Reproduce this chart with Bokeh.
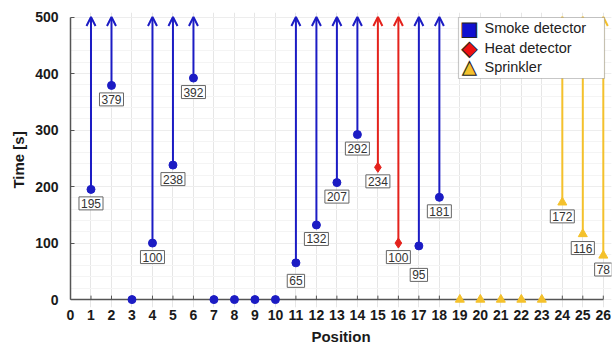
from bokeh.plotting import figure
from bokeh.models import (ColumnDataSource, Range1d, Arrow, OpenHead, Label,
                          BoxAnnotation, FixedTicker)
from bokeh.embed import file_html
from bokeh.resources import INLINE

# ---- data ----
smoke_pos = [1, 2, 3, 4, 5, 6, 7, 8, 9, 10, 11, 12, 13, 14, 17, 18]
smoke_time = [195, 379, 0, 100, 238, 392, 0, 0, 0, 0, 65, 132, 207, 292, 95, 181]
heat_pos = [15, 16]
heat_time = [234, 100]
sprk_pos = [19, 20, 21, 22, 23, 24, 25, 26]
sprk_time = [0, 0, 0, 0, 0, 172, 116, 78]
legend_labels = ["Smoke detector", "Heat detector", "Sprinkler"]
x_ticks = list(range(0, 27))
y_ticks = [0, 100, 200, 300, 400, 500]
time_max = 500

# ---- styles ----
BLUE = "#1c1cc4"
RED = "#e4221c"
GOLD = "#f4c12c"
AXIS = "#555555"
label_drop = {(11, 65): -18, (17, 95): -29}
tick_len = 7  # data units (~4px)

FONT = "Liberation Sans"

p = figure(frame_width=541, frame_height=295, min_border_left=70, min_border_right=3,
           min_border_top=12, min_border_bottom=0,
           x_range=Range1d(0, 26.4), y_range=Range1d(-14, 508),
           output_backend="svg", toolbar_location=None, background_fill_color="white",
           border_fill_color="white")
p.outline_line_color = None

# grid
p.xgrid.ticker = FixedTicker(ticks=x_ticks)
p.xgrid.grid_line_color = "#e6e6e6"
p.xgrid.bounds = (0, 500)
p.ygrid.ticker = FixedTicker(ticks=y_ticks, minor_ticks=list(range(0, 501, 20)))
p.ygrid.grid_line_color = "#ededed"
p.ygrid.minor_grid_line_color = "#f4f4f4"
p.ygrid.bounds = (0, 26)

# axes
p.xaxis.ticker = FixedTicker(ticks=x_ticks)
p.yaxis.ticker = FixedTicker(ticks=y_ticks)
p.yaxis.bounds = (0, 500)
for ax in (p.xaxis[0], p.yaxis[0]):
    ax.axis_line_color = AXIS
    ax.axis_line_width = 1.5
    ax.major_tick_line_color = AXIS
    ax.major_tick_in = 4
    ax.major_tick_out = 0
    ax.minor_tick_line_color = None
    ax.major_label_text_font = FONT
    ax.major_label_text_font_style = "bold"
    ax.major_label_text_font_size = "14px"
    ax.major_label_text_color = "#1a1a1a"
    ax.axis_label_text_font = FONT
    ax.axis_label_text_font_style = "bold"
    ax.axis_label_text_font_size = "15px"
    ax.axis_label_text_color = "#1a1a1a"
p.xaxis.axis_line_color = None
p.xaxis.major_tick_line_color = None
p.xaxis.axis_label = "Position"
p.yaxis.axis_label = "Time [s]"
p.xaxis.major_label_standoff = 2
p.xaxis.axis_label_standoff = 5
p.yaxis.major_label_standoff = 12
p.yaxis.axis_label_standoff = 5

# x axis line at time 0 with inward ticks
p.segment(x0=[x_ticks[0]], x1=[x_ticks[-1]], y0=[0], y1=[0], line_color=AXIS, line_width=1.5)
p.segment(x0=x_ticks, x1=x_ticks, y0=[0] * len(x_ticks), y1=[tick_len] * len(x_ticks),
          line_color=AXIS, line_width=1)


def series(pos, times, color, marker, size):
    nz = [(x, t) for x, t in zip(pos, times) if t > 0]
    src = ColumnDataSource(dict(
        x=[a for a, _ in nz], y=[b for _, b in nz], top=[time_max] * len(nz)))
    arr = Arrow(x_start="x", y_start="y", x_end="x", y_end="top", source=src,
                line_color=color, line_width=2, level="glyph",
                end=OpenHead(size=9, line_color=color, line_width=2))
    p.add_layout(arr)
    p.scatter(pos, times, marker=marker, size=size, fill_color=color, line_color=color)
    for a, b in nz:
        p.add_layout(Label(x=a, y=b, text=str(b), y_offset=label_drop.get((a, b), -14),
                           text_align="center", text_baseline="middle",
                           text_font=FONT, text_font_size="12px", text_color="#333333",
                           background_fill_color="white", border_line_color="#666666",
                           border_line_width=1, padding=2))


series(smoke_pos, smoke_time, BLUE, "circle", 8)
series(heat_pos, heat_time, RED, "diamond", 10)
series(sprk_pos, sprk_time, GOLD, "triangle", 9)

# ---- legend (drawn by hand, screen units relative to the frame) ----
p.add_layout(BoxAnnotation(left=388, right=534, bottom=229, top=290,
                           left_units="screen", right_units="screen",
                           bottom_units="screen", top_units="screen",
                           fill_color="white", fill_alpha=1.0,
                           line_color="#444444", line_width=1.2, level="annotation"))
legend_syms = ["\u25A0", "\u25C6", "\u25B2"]
legend_cols = ["#1010d0", "#ee1010", GOLD]
legend_sym_size = ["19px", "20px", "18px"]
row_y = [280, 260, 241]
for sym, col, fs, lab, ry in zip(legend_syms, legend_cols, legend_sym_size, legend_labels, row_y):
    p.add_layout(Label(x=399, y=ry, x_units="screen", y_units="screen", text=sym,
                       text_align="center", text_baseline="middle",
                       text_font="DejaVu Sans", text_font_size=fs, text_color=col,
                       text_outline_color="#222222"))
    p.add_layout(Label(x=414, y=ry, x_units="screen", y_units="screen", text=lab,
                       text_align="left", text_baseline="middle",
                       text_font=FONT, text_font_size="14.5px", text_color="#222222"))

open("out.html", "w").write(file_html(p, INLINE))
